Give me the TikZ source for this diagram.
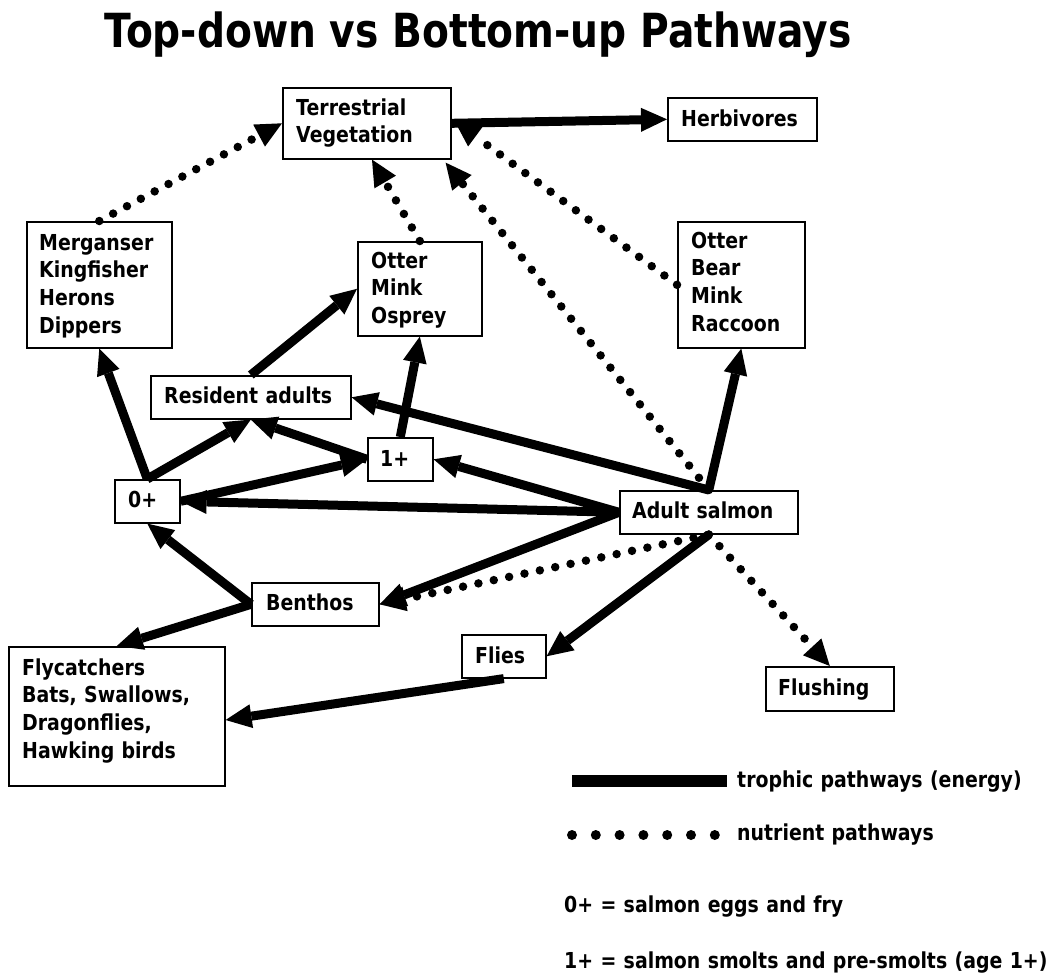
\documentclass[tikz,border=0pt]{standalone}
\usepackage{fontspec}
\setmainfont{DejaVu Sans}[FakeStretch=0.86]
\newfontfamily\titlefont{DejaVu Sans}[FakeStretch=0.834]
\usetikzlibrary{arrows.meta,calc}
\newcommand\bodyfont{\fontsize{22}{27.7}\selectfont\bfseries}
\begin{document}
\begin{tikzpicture}[x=1pt,y=-1pt,
  box/.style={draw, line width=1.6pt, inner sep=0pt, anchor=north west},
  lbl/.style={inner sep=0pt, anchor=base west, font=\bodyfont, text width=600pt, align=left},
  troph/.style={line width=9pt, -{Triangle[length=26pt,width=24pt,line width=0pt]}},
  nutr/.style={line width=8.5pt, line cap=round, dash pattern=on 0pt off 15.7pt,
    -{Triangle[length=26pt,width=25pt,line width=0pt]}}]
\useasboundingbox (0,0) rectangle (1055,977);
\fill[white] (0,0) rectangle (1055,977);

\node[anchor=base, inner sep=0pt, font=\titlefont\fontsize{47}{56}\selectfont\bfseries] (title) at (478,47) {Top-down vs Bottom-up Pathways};

% boxes
\node[box, minimum width=168pt, minimum height=71pt] (tv) at (282,87) {};
\node[box, minimum width=149pt, minimum height=43pt] (herb) at (667,97) {};
\node[box, minimum width=145pt, minimum height=126pt] (mg) at (26,221) {};
\node[box, minimum width=124pt, minimum height=94pt] (omo) at (357,241) {};
\node[box, minimum width=127pt, minimum height=126pt] (obm) at (677,221) {};
\node[box, minimum width=200pt, minimum height=43pt] (ra) at (150,375) {};
\node[box, minimum width=65pt, minimum height=43pt] (one) at (367,437) {};
\node[box, minimum width=65pt, minimum height=43pt] (zero) at (114,479) {};
\node[box, minimum width=127pt, minimum height=43pt] (ben) at (251,582) {};
\node[box, minimum width=216pt, minimum height=139pt] (fly) at (8,646) {};
\node[box, minimum width=84pt, minimum height=43pt] (flies) at (461,634) {};
\node[box, minimum width=178pt, minimum height=43pt] (as) at (619,490) {};
\node[box, minimum width=128pt, minimum height=44pt] (flush) at (765,666) {};

% labels
\node[lbl] (tvt) at (296,115) {Terrestrial\\Vegetation};
\node[lbl] (herbt) at (681,126) {Herbivores};
\node[lbl] (mgt) at (39,250) {Merganser\\Kingfisher\\Herons\\Dippers};
\node[lbl] (omot) at (371,268) {Otter\\Mink\\Osprey};
\node[lbl] (obmt) at (691,248) {Otter\\Bear\\Mink\\Raccoon};
\node[lbl] (rat) at (164,403) {Resident adults};
\node[lbl] (onet) at (380,466) {1+};
\node[lbl] (zerot) at (128,507) {0+};
\node[lbl] (bent) at (266,610) {Benthos};
\node[lbl] (flyt) at (22,675) {Flycatchers\\Bats, Swallows,\\Dragonflies,\\Hawking birds};
\node[lbl] (fliest) at (475,663) {Flies};
\node[lbl] (ast) at (632,518) {Adult salmon};
\node[lbl] (flusht) at (778,695) {Flushing};

% trophic pathways
\draw[troph] (tv.east) -- (herb.west);
\draw[troph] (ra.north) -- (omo.west);
\draw[troph] (one.north) -- (omo.south);
\draw[troph] (zero.north) -- (mg.south);
\draw[troph] (zero.north) -- (ra.south);
\draw[troph] (one.west) -- (ra.south);
\draw[troph] (zero.east) -- (one.west);
\draw[troph] (as.north) -- (ra.east);
\draw[troph] (as.north) -- (obm.south);
\draw[troph] (as.west) -- (one.east);
\draw[troph] (as.west) -- (zero.east);
\draw[troph] (as.west) -- (ben.east);
\draw[troph] (as.south) -- (flies.east);
\draw[troph] (ben.west) -- (zero.south);
\draw[troph] (ben.west) -- (fly.north);
\draw[troph] (flies.south) -- ($(fly.north east)+(0,74)$);

% nutrient pathways
\draw[nutr] (mg.north) -- (tv.west);
\draw[nutr] (omo.north) -- ($(tv.south west)+(90,0)$);
\draw[nutr] (as.north) -- ($(tv.south east)+(-6,3)$);
\draw[nutr] (obm.west) -- ($(tv.north east)+(3,34)$);
\draw[nutr] (as.south) -- (ben.east);
\draw[nutr] (as.south) -- (flush.north);

% legend
\coordinate (l1a) at (572,781);
\coordinate (l1b) at (727,781);
\draw[line width=12pt] (l1a) -- (l1b);
\node[lbl] (l1t) at (737,787) {trophic pathways (energy)};
\foreach \x in {572,595.8,619.6,643.4,667.2,691,714.8}
  \fill (\x,835) circle (5pt);
\node[lbl] (l2t) at (737,840) {nutrient pathways};
\node[lbl] (k0) at (564,912) {0+ = salmon eggs and fry};
\node[lbl] (k1) at (564,968) {1+ = salmon smolts and pre-smolts (age 1+)};
\end{tikzpicture}
\end{document}
